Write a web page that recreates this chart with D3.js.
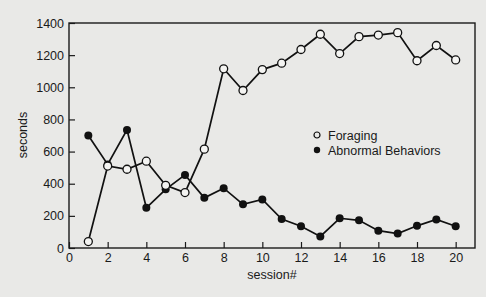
<!DOCTYPE html>
<html>
<head>
<meta charset="utf-8">
<script src="https://cdn.jsdelivr.net/npm/d3@7"></script>
<style>
  body { margin: 0; background: #e9e9e7; }
  svg { display: block; font-family: "Liberation Sans", Arial, sans-serif; }
</style>
</head>
<body>
<div id="chart"></div>
<script>
// sessions and the two series (seconds)
var sessions = [1, 2, 3, 4, 5, 6, 7, 8, 9, 10, 11, 12, 13, 14, 15, 16, 17, 18, 19, 20];
var foraging = [40, 510, 490, 540, 390, 345, 615, 1115, 980, 1110, 1150, 1235, 1330, 1210, 1315, 1325, 1340, 1165, 1260, 1170];
var abnormal = [700, 520, 735, 250, 365, 455, 312, 372, 272, 302, 180, 135, 72, 185, 172, 108, 90, 138, 178, 135];
var xTicks = [0, 2, 4, 6, 8, 10, 12, 14, 16, 18, 20];
var yTicks = [0, 200, 400, 600, 800, 1000, 1200, 1400];

var W = 486, H = 297;
var margin = { top: 23, right: 11, bottom: 49, left: 69 },
  width = W - margin.left - margin.right,
  height = H - margin.top - margin.bottom;

var svg = d3
  .select("#chart")
  .append("svg")
  .attr("width", W)
  .attr("height", H);

var g = svg
  .append("g")
  .attr("transform", "translate(" + margin.left + "," + margin.top + ")");

var x = d3.scaleLinear().domain([0, 21]).range([0, width]);
var y = d3.scaleLinear().domain([0, 1400]).range([height, 0]);

// axes, ticks point inward
var xAxis = g
  .append("g")
  .attr("transform", "translate(0," + height + ")")
  .call(d3.axisBottom(x).tickValues(xTicks).tickFormat(d3.format("d"))
    .tickSizeInner(-6).tickSizeOuter(0).tickPadding(5));
var yAxis = g
  .append("g")
  .call(d3.axisLeft(y).tickValues(yTicks).tickFormat(d3.format("d"))
    .tickSizeInner(-6).tickSizeOuter(0).tickPadding(5));

[xAxis, yAxis].forEach(function (a) {
  a.select(".domain").remove();
  a.selectAll("line").attr("stroke", "#1a1a1a").attr("stroke-width", 1.2);
  a.selectAll("text")
    .attr("fill", "#1a1a1a")
    .style("font-size", "12.5px")
    .style("font-family", "'Liberation Sans', Arial, sans-serif");
});

// frame
g.append("rect")
  .attr("width", width)
  .attr("height", height)
  .attr("fill", "none")
  .attr("stroke", "#1a1a1a")
  .attr("stroke-width", 1.4);

var line = d3
  .line()
  .x(function (d) { return x(d[0]); })
  .y(function (d) { return y(d[1]); });

var forData = sessions.map(function (s, i) { return [s, foraging[i]]; });
var abnData = sessions.map(function (s, i) { return [s, abnormal[i]]; });

g.append("path")
  .attr("d", line(abnData))
  .attr("fill", "none")
  .attr("stroke", "#111")
  .attr("stroke-width", 1.7);
g.append("path")
  .attr("d", line(forData))
  .attr("fill", "none")
  .attr("stroke", "#111")
  .attr("stroke-width", 1.7);

g.selectAll("circle.abn")
  .data(abnData)
  .enter()
  .append("circle")
  .attr("class", "abn")
  .attr("cx", function (d) { return x(d[0]); })
  .attr("cy", function (d) { return y(d[1]); })
  .attr("r", 4)
  .attr("fill", "#111");

g.selectAll("circle.for")
  .data(forData)
  .enter()
  .append("circle")
  .attr("class", "for")
  .attr("cx", function (d) { return x(d[0]); })
  .attr("cy", function (d) { return y(d[1]); })
  .attr("r", 4)
  .attr("fill", "#f4f4f2")
  .attr("stroke", "#111")
  .attr("stroke-width", 1.3);

// legend
var legend = svg.append("g").attr("transform", "translate(317,135)");
legend.append("circle").attr("r", 3).attr("fill", "none").attr("stroke", "#111").attr("stroke-width", 1.2);
legend.append("text").attr("x", 11).attr("y", 4.5).text("Foraging");
legend.append("circle").attr("cy", 15).attr("r", 3.2).attr("fill", "#111");
legend.append("text").attr("x", 11).attr("y", 19.5).text("Abnormal Behaviors");
legend.selectAll("text").attr("fill", "#1a1a1a").style("font-size", "12.5px");

// axis titles
svg.append("text")
  .attr("x", margin.left + width / 2)
  .attr("y", 279)
  .attr("text-anchor", "middle")
  .attr("fill", "#1a1a1a")
  .style("font-size", "12.5px")
  .text("session#");

svg.append("text")
  .attr("transform", "translate(27,135) rotate(-90)")
  .attr("text-anchor", "middle")
  .attr("fill", "#1a1a1a")
  .style("font-size", "12.5px")
  .text("seconds");
</script>
</body>
</html>
